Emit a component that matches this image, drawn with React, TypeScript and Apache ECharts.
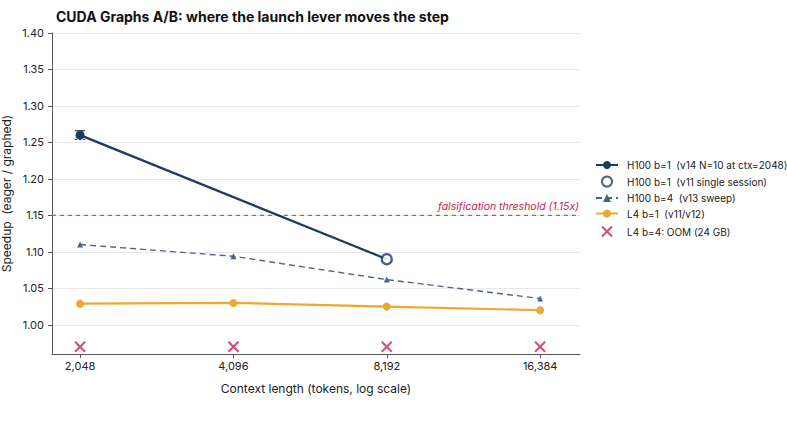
import React, { useEffect, useRef } from "react";
import * as echarts from "echarts";

const contexts = [2048, 4096, 8192, 16384];
const yTicks = [1.0, 1.05, 1.1, 1.15, 1.2, 1.25, 1.3, 1.35, 1.4];
const h100b1v14 = [[2048, 1.26], [8192, 1.09]];
const h100b1v14Err = [[2048, 1.254, 1.266]];
const h100b1v11 = [[8192, 1.09]];
const h100b4v13 = [1.11, 1.094, 1.062, 1.036];
const l4b1 = [1.029, 1.030, 1.025, 1.020];
const l4b4Oom = [0.97, 0.97, 0.97, 0.97];
const threshold = 1.15;

const NAVY = "#1f3a60";
const SLATE = "#4d6385";
const ORANGE = "#eba92f";
const CRIMSON = "#c81d4f";
const FONT = "Inter, 'Noto Sans', sans-serif";

const X_MIN = 10.817;
const X_MAX = 14.26;
const lx = (v: number) => Math.log2(v);

export default function App() {
  const ref = useRef<HTMLDivElement>(null);
  useEffect(() => {
    if (!ref.current) return;
    document.body.style.margin = "0";
    const chart = echarts.init(ref.current, undefined, { renderer: "svg" });
    chart.setOption({
      animation: false,
      backgroundColor: "#ffffff",
      textStyle: { fontFamily: FONT },
      title: {
        text: "CUDA Graphs A/B: where the launch lever moves the step",
        left: 51,
        top: 4,
        textStyle: { fontFamily: FONT, fontSize: 14, fontWeight: "bold", color: "#111111" },
      },
      grid: { left: 52, right: 207, top: 33, bottom: 74, containLabel: false, outerBoundsMode: "none" },
      legend: {
        orient: "vertical",
        left: 590,
        top: 155,
        itemWidth: 22,
        itemHeight: 10,
        itemGap: 5.5,
        textStyle: { fontFamily: FONT, fontSize: 10, color: "#222222", padding: [0, 0, 0, 4] },
        data: [
          "H100 b=1  (v14 N=10 at ctx=2048)",
          "H100 b=1  (v11 single session)",
          "H100 b=4  (v13 sweep)",
          "L4 b=1  (v11/v12)",
          "L4 b=4: OOM (24 GB)",
        ],
      },
      xAxis: {
        type: "value",
        min: X_MIN,
        max: X_MAX,
        name: "Context length (tokens, log scale)",
        nameLocation: "middle",
        nameGap: 28,
        nameMoveOverlap: false,
        nameTextStyle: { fontFamily: FONT, fontSize: 12, color: "#222222" },
        axisLine: { lineStyle: { color: "#555555" } },
        axisTick: { show: true, length: 4, customValues: contexts.map(lx), lineStyle: { color: "#555555" } },
        axisLabel: {
          customValues: contexts.map(lx),
          formatter: (v: number) => Math.round(Math.pow(2, v)).toLocaleString("en-US"),
          fontFamily: FONT,
          fontSize: 11,
          color: "#222222",
          margin: 6,
        },
        splitLine: { show: false },
      },
      yAxis: {
        type: "value",
        min: 0.96,
        max: 1.4,
        name: "Speedup  (eager / graphed)",
        nameLocation: "middle",
        nameGap: 40,
        nameMoveOverlap: false,
        nameTextStyle: { fontFamily: FONT, fontSize: 12, color: "#222222" },
        axisLine: { show: true, lineStyle: { color: "#555555" } },
        axisTick: { show: true, length: 4, customValues: yTicks, lineStyle: { color: "#555555" } },
        axisLabel: {
          customValues: yTicks,
          formatter: (v: number) => v.toFixed(2),
          fontFamily: FONT,
          fontSize: 11,
          color: "#222222",
        },
        splitLine: { show: true, lineStyle: { color: "#e8e8e8", width: 1 } },
      },
      series: [
        {
          name: "threshold",
          type: "line",
          data: [[X_MIN, threshold], [X_MAX, threshold]],
          symbol: "none",
          silent: true,
          lineStyle: { color: "#cc4d72", type: [4, 4], width: 1.1 },
          itemStyle: { color: "#cc4d72" },
          z: 2,
          markLine: {
            silent: true,
            symbol: "none",
            data: [{ yAxis: threshold }],
            lineStyle: { color: "transparent", width: 0 },
            label: {
              show: true,
              position: "insideEndTop",
              formatter: "falsification threshold (1.15x)",
              fontFamily: FONT,
              fontSize: 10.5,
              fontStyle: "italic",
              color: CRIMSON,
              distance: [1, 3],
            },
          },
        },
        {
          name: "H100 b=1  (v14 N=10 at ctx=2048)",
          type: "line",
          data: h100b1v14.map((d, i) => ({
            value: [lx(d[0]), d[1]],
            symbol: i === 0 ? "circle" : "none",
          })),
          symbol: "circle",
          symbolSize: 9,
          itemStyle: { color: NAVY },
          lineStyle: { color: NAVY, width: 2.2 },
          z: 5,
        },
        {
          name: "H100 b=1  (v14 N=10 at ctx=2048)",
          type: "custom",
          data: h100b1v14Err.map((d) => [lx(d[0]), d[1], d[2]]),
          renderItem: (params: any, api: any) => {
            const x = api.value(0);
            const lo = api.coord([x, api.value(1)]);
            const hi = api.coord([x, api.value(2)]);
            const w = 5;
            return {
              type: "group",
              children: [
                { type: "line", shape: { x1: lo[0], y1: lo[1], x2: hi[0], y2: hi[1] }, style: { stroke: NAVY, lineWidth: 1.2 } },
                { type: "line", shape: { x1: hi[0] - w, y1: hi[1], x2: hi[0] + w, y2: hi[1] }, style: { stroke: NAVY, lineWidth: 1.2 } },
                { type: "line", shape: { x1: lo[0] - w, y1: lo[1], x2: lo[0] + w, y2: lo[1] }, style: { stroke: NAVY, lineWidth: 1.2, lineDash: [2, 2] } },
              ],
            };
          },
          z: 4,
        },
        {
          name: "H100 b=1  (v11 single session)",
          type: "scatter",
          data: h100b1v11.map((d) => [lx(d[0]), d[1]]),
          symbol: "circle",
          symbolSize: 10,
          itemStyle: { color: "#ffffff", borderColor: NAVY, borderWidth: 2.4 },
          z: 6,
        },
        {
          name: "H100 b=4  (v13 sweep)",
          type: "line",
          data: contexts.map((c, i) => [lx(c), h100b4v13[i]]),
          symbol: "triangle",
          symbolSize: 6,
          itemStyle: { color: SLATE },
          lineStyle: { color: SLATE, width: 1.4, type: [6, 4] },
          z: 3,
        },
        {
          name: "L4 b=1  (v11/v12)",
          type: "line",
          data: contexts.map((c, i) => [lx(c), l4b1[i]]),
          symbol: "circle",
          symbolSize: 8,
          itemStyle: { color: ORANGE },
          lineStyle: { color: ORANGE, width: 2.2 },
          z: 3,
        },
        {
          name: "L4 b=4: OOM (24 GB)",
          type: "scatter",
          data: contexts.map((c, i) => [lx(c), l4b4Oom[i]]),
          symbol: "path://M0,0 L10,10 M10,0 L0,10",
          symbolSize: 10,
          itemStyle: { color: "none", borderColor: CRIMSON, borderWidth: 2 },
          z: 3,
        },
      ],
    });
    return () => chart.dispose();
  }, []);
  return <div ref={ref} style={{ width: 787, height: 428 }} />;
}
